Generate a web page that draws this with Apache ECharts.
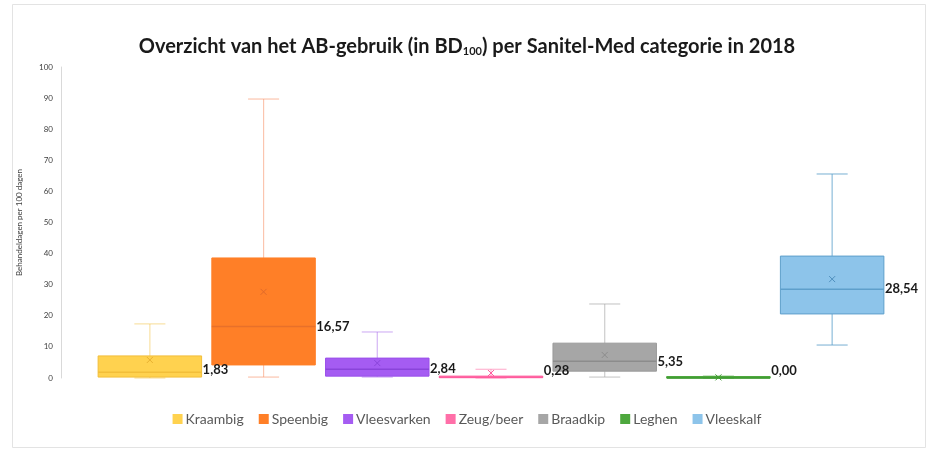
<!DOCTYPE html>
<html>
<head>
<meta charset="utf-8">
<script src="https://cdn.jsdelivr.net/npm/echarts@6/dist/echarts.min.js"></script>
<style>html,body{margin:0;padding:0;background:#fff;}#c{width:934px;height:455px;}</style>
</head>
<body>
<div id="c"></div>
<script>
// Categories
const categories = ['Kraambig', 'Speenbig', 'Vleesvarken', 'Zeug/beer', 'Braadkip', 'Leghen', 'Vleeskalf'];
// Box statistics (min, Q1, median, Q3, max), mean
const minValues    = [0.0, 0.3, 0.3, 0.0, 0.3, 0.0, 10.6];
const q1Values     = [0.3, 4.2, 0.6, 0.1, 2.2, 0.0, 20.6];
const medianValues = [1.83, 16.57, 2.84, 0.28, 5.35, 0.00, 28.54];
const q3Values     = [7.1, 38.6, 6.4, 0.6, 11.2, 0.3, 39.2];
const maxValues    = [17.4, 89.7, 14.8, 2.8, 23.8, 0.6, 65.6];
const meanValues   = [5.8, 27.7, 4.8, 1.6, 7.4, 0.2, 31.8];
// Y axis ticks
const yTicks = [0, 10, 20, 30, 40, 50, 60, 70, 80, 90, 100];

const styles = [
  {fill: '#FFD24F', border: '#F2BE3A', median: '#F2BE3A', whisker: 'rgba(242,190,58,0.45)', mean: '#E8B030'},
  {fill: '#FF7F27', border: '#FF7F27', median: '#E8702A', whisker: 'rgba(247,150,110,0.55)', mean: '#E06A2A'},
  {fill: '#A55CF2', border: '#9A50EA', median: '#8A44DA', whisker: 'rgba(170,110,235,0.5)', mean: '#8A44DA'},
  {fill: '#FF6FA8', border: '#FF5C9D', median: '#FF5C9D', whisker: 'rgba(255,110,165,0.5)', mean: '#FF5C9D'},
  {fill: '#A6A6A6', border: '#9A9A9A', median: '#8C8C8C', whisker: 'rgba(170,170,170,0.6)', mean: '#8C8C8C'},
  {fill: '#4EA83E', border: '#4EA83E', median: '#3E9A30', whisker: 'rgba(78,168,62,0.6)', mean: '#3E9A30'},
  {fill: '#8DC4EA', border: '#5E9FCB', median: '#5E9FCB', whisker: 'rgba(94,159,203,0.7)', mean: '#4F8FBD'}
];

function fmt(v) { return v.toFixed(2).replace('.', ','); }

function makeRender(st) {
  return function (params, api) {
    const x = api.value(0);
    const pMin = api.coord([x, api.value(1)]);
    const pQ1 = api.coord([x, api.value(2)]);
    const pMed = api.coord([x, api.value(3)]);
    const pQ3 = api.coord([x, api.value(4)]);
    const pMax = api.coord([x, api.value(5)]);
    const pMean = api.coord([x, api.value(6)]);
    const band = api.size([1, 0])[0];
    const bw = band * 0.91;
    const cx = pMed[0];
    const capW = bw * 0.3;
    const left = cx - bw / 2;
    const boxH = Math.max(pQ1[1] - pQ3[1], 1.5);
    const ws = {stroke: st.whisker, lineWidth: 1.2};
    const m = 3;
    return {
      type: 'group',
      children: [
        {type: 'line', shape: {x1: cx, y1: pMax[1], x2: cx, y2: pQ3[1]}, style: ws},
        {type: 'line', shape: {x1: cx, y1: pQ1[1], x2: cx, y2: pMin[1]}, style: ws},
        {type: 'line', shape: {x1: cx - capW / 2, y1: pMax[1], x2: cx + capW / 2, y2: pMax[1]}, style: ws},
        {type: 'line', shape: {x1: cx - capW / 2, y1: pMin[1], x2: cx + capW / 2, y2: pMin[1]}, style: ws},
        {type: 'rect', shape: {x: left, y: pQ1[1] - boxH, width: bw, height: boxH},
          style: {fill: st.fill, stroke: st.border, lineWidth: 1}},
        {type: 'line', shape: {x1: left, y1: pMed[1], x2: left + bw, y2: pMed[1]},
          style: {stroke: st.median, lineWidth: 1.5}},
        {type: 'line', shape: {x1: cx - m, y1: pMean[1] - m, x2: cx + m, y2: pMean[1] + m}, style: {stroke: st.mean, lineWidth: 1}},
        {type: 'line', shape: {x1: cx - m, y1: pMean[1] + m, x2: cx + m, y2: pMean[1] - m}, style: {stroke: st.mean, lineWidth: 1}},
        {type: 'text', x: left + bw + 1, y: Math.min(pMed[1], pQ1[1] - 7), z2: 100,
          style: {text: fmt(api.value(3)), fill: '#1a1a1a', font: 'bold 13px Lato, "Open Sans", sans-serif',
            textAlign: 'left', textVerticalAlign: 'middle'}}
      ]
    };
  };
}

const series = categories.map(function (name, i) {
  return {
    name: name,
    type: 'custom',
    renderItem: makeRender(styles[i]),
    itemStyle: {color: styles[i].fill},
    encode: {x: 0, y: [1, 2, 3, 4, 5]},
    data: [[i, minValues[i], q1Values[i], medianValues[i], q3Values[i], maxValues[i], meanValues[i]]]
  };
});

const chart = echarts.init(document.getElementById('c'), null, {renderer: 'canvas'});
chart.setOption({
  animation: false,
  backgroundColor: '#fff',
  textStyle: {fontFamily: 'Lato, "Open Sans", sans-serif'},
  graphic: [{
    type: 'rect', shape: {x: 12.5, y: 4.5, width: 913, height: 443},
    style: {fill: 'none', stroke: '#E3E3E3', lineWidth: 1}, silent: true, z: -10
  }],
  title: {
    text: 'Overzicht van het AB-gebruik (in BD{sub|100}) per Sanitel-Med categorie in 2018',
    left: 'center', top: 31,
    textStyle: {
      fontSize: 20, fontWeight: 'bold', color: '#1a1a1a', fontFamily: 'Lato, sans-serif',
      rich: {sub: {fontSize: 11, fontWeight: 'bold', color: '#1a1a1a', verticalAlign: 'bottom', padding: [10, 0, 0, 0]}}
    }
  },
  legend: {
    data: categories,
    top: 407, left: 'center',
    icon: 'rect', itemWidth: 10, itemHeight: 10, itemGap: 15,
    textStyle: {fontSize: 14, color: '#595959', padding: [0, 0, 0, -2]}
  },
  grid: {left: 93, right: 45, top: 67, bottom: 77},
  xAxis: {
    type: 'category', data: categories,
    axisLine: {show: false}, axisTick: {show: false}, axisLabel: {show: false}, splitLine: {show: false}
  },
  yAxis: {
    type: 'value', min: yTicks[0], max: yTicks[yTicks.length - 1], interval: yTicks[1] - yTicks[0],
    offset: 32,
    axisLine: {show: true, lineStyle: {color: '#D9D9D9'}},
    axisTick: {show: false},
    splitLine: {show: false},
    axisLabel: {fontSize: 8, color: '#404040', margin: 8},
    name: 'Behandeldagen per 100 dagen', nameLocation: 'middle', nameGap: 38,
    nameTextStyle: {fontSize: 8, color: '#404040'}
  },
  series: series
});
</script>
</body>
</html>
